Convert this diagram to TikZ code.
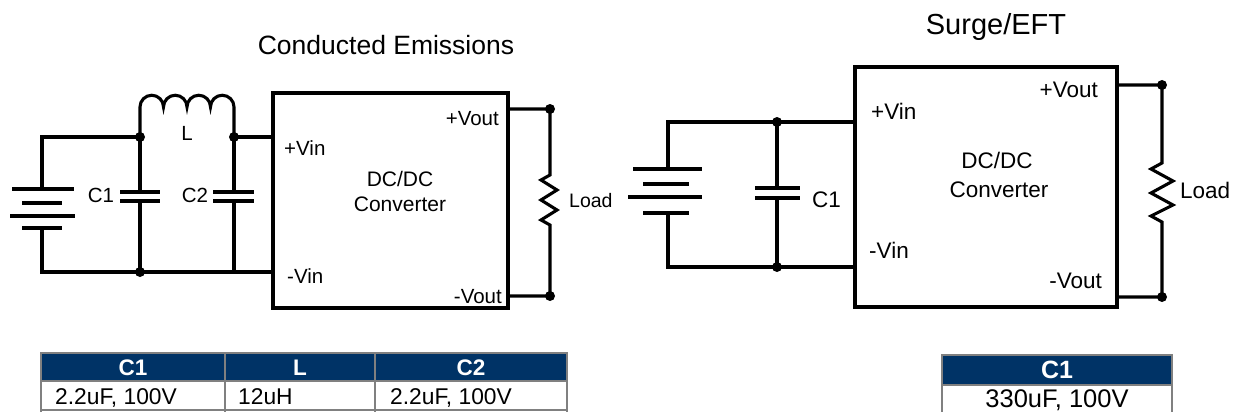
\documentclass[tikz,border=0pt]{standalone}
\usepackage{fontspec}
\setmainfont{Liberation Sans}
\definecolor{hdr}{RGB}{0,51,102}
\definecolor{gridc}{RGB}{128,128,128}
\begin{document}
\begin{tikzpicture}[x=1pt,y=-1pt,
  wire/.style={line width=3.1pt, line join=miter},
  plate/.style={line width=3.1pt},
  conv/.style={draw, line width=3.1pt, minimum width=#1, inner sep=0pt},
  dotn/.style={circle, fill=black, inner sep=0pt, minimum size=10pt},
  lblA/.style={inner sep=0pt, font=\fontsize{20.5}{24}\selectfont},
  lblB/.style={inner sep=0pt, font=\fontsize{22.5}{27}\selectfont},
  tgrid/.style={draw=gridc, line width=2.4pt},
  thead/.style={inner sep=0pt, text=white, font=\bfseries\fontsize{22.5}{26}\selectfont},
  tcell/.style={inner sep=0pt, font=\fontsize{22.8}{26}\selectfont},
  theadB/.style={inner sep=0pt, text=white, font=\bfseries\fontsize{25}{28}\selectfont},
  tcellB/.style={inner sep=0pt, font=\fontsize{25.5}{28}\selectfont}]
\useasboundingbox (0,0) rectangle (1235,412);

% ================= LEFT: Conducted Emissions =================
\node[inner sep=0pt, anchor=base, font=\fontsize{26.5}{30}\selectfont] (t1) at (386,55) {Conducted Emissions};

% converter box (273,93)-(508,308)
\node[conv=235pt, minimum height=215pt] (cv1) at (390.5,200.5) {};
\node[lblA, anchor=base west] (vin1p) at (284,155) {+Vin};
\node[lblA, anchor=base west] (vin1n) at (287,283) {-Vin};
\node[lblA, anchor=base east] (vo1p) at (499,125) {+Vout};
\node[lblA, anchor=base east] (vo1n) at (502,303) {-Vout};
\node[inner sep=0pt, anchor=base, font=\fontsize{21}{24}\selectfont] (dc1) at (400,186) {DC/DC};
\node[inner sep=0pt, anchor=base, font=\fontsize{21}{24}\selectfont] (cvt1) at (400,211) {Converter};

% junctions
\coordinate (j1) at (140,137);
\coordinate (j2) at (234,137);
\coordinate (j3) at (140,272);
\coordinate (j4) at (234,272);
\coordinate (bp1) at (42,189);
\coordinate (bn1) at (42,228);

% battery
\draw[plate] (12,189) -- (74,189);
\draw[plate] (22,203) -- (62,203);
\draw[plate] (10,216) -- (75,216);
\draw[plate] (22,228) -- (62,228);
\draw[wire] (bp1) |- (j1);
\draw[wire] (bn1) |- (j3) -- (j4) -- (j4 -| cv1.west);

% inductor
\draw[wire] (j1) -- (140,107)
  arc[start angle=180, end angle=0, radius=11.75pt]
  arc[start angle=180, end angle=0, radius=11.75pt]
  arc[start angle=180, end angle=0, radius=11.75pt]
  arc[start angle=180, end angle=0, radius=11.75pt] -- (j2);
\node[lblA, anchor=base] (lL) at (187,140) {L};
\draw[wire] (j2) -- (j2 -| cv1.west);

% C1
\coordinate (c1a) at (140,192);
\coordinate (c1b) at (140,201);
\draw[wire] (j1) -- (c1a);
\draw[wire] (c1b) -- (j3);
\draw[plate] (120,192) -- (160,192);
\draw[plate] (120,201) -- (160,201);
\node[lblA, anchor=base] (lC1) at (101,202) {C1};
% C2
\coordinate (c2a) at (234,192);
\coordinate (c2b) at (234,201);
\draw[wire] (j2) -- (c2a);
\draw[wire] (c2b) -- (j4);
\draw[plate] (213,192) -- (254,192);
\draw[plate] (213,201) -- (254,201);
\node[lblA, anchor=base] (lC2) at (195,202) {C2};

% output + load
\coordinate (o1t) at (550,109);
\coordinate (o1b) at (550,296);
\draw[wire] (cv1.east |- o1t) -- (o1t) -- (550,175) -- (541,180) -- (557,190) -- (541,200)
  -- (557,210) -- (541,220) -- (550,225) -- (o1b) -- (cv1.east |- o1b);
\node[inner sep=0pt, anchor=base west, font=\fontsize{19.5}{23}\selectfont] (ld1) at (569,207) {Load};

\node[dotn] (d1) at (j1) {};
\node[dotn] (d2) at (j2) {};
\node[dotn] (d3) at (j3) {};
\node[dotn] (d4) at (o1t) {};
\node[dotn] (d5) at (o1b) {};

% ================= RIGHT: Surge/EFT =================
\node[inner sep=0pt, anchor=base, font=\fontsize{29}{33}\selectfont] (t2) at (996,35) {Surge/EFT};

% converter box (855,67)-(1117,307)
\node[conv=262pt, minimum height=240pt] (cv2) at (986,187) {};
\node[lblB, anchor=base west] (vin2p) at (871,120) {+Vin};
\node[lblB, anchor=base west] (vin2n) at (869,258) {-Vin};
\node[lblB, anchor=base east] (vo2p) at (1098,97) {+Vout};
\node[lblB, anchor=base east] (vo2n) at (1102,288) {-Vout};
\node[lblB, anchor=base] (dc2) at (997,168) {DC/DC};
\node[lblB, anchor=base] (cvt2) at (999,197) {Converter};

\coordinate (k1) at (777,122);
\coordinate (k2) at (777,267);
\coordinate (bp2) at (668,169);
\coordinate (bn2) at (668,213);

% battery
\draw[plate] (633,169) -- (702,169);
\draw[plate] (643,184) -- (689,184);
\draw[plate] (628,197) -- (702,197);
\draw[plate] (643,213) -- (689,213);
\draw[wire] (bp2) |- (k1) -- (k1 -| cv2.west);
\draw[wire] (bn2) |- (k2) -- (k2 -| cv2.west);

% C1
\coordinate (c3a) at (777,188);
\coordinate (c3b) at (777,198);
\draw[wire] (k1) -- (c3a);
\draw[wire] (c3b) -- (k2);
\draw[plate] (755,188) -- (800,188);
\draw[plate] (755,198) -- (800,198);
\node[lblB, anchor=base west] (lC3) at (812,207) {C1};

% output + load
\coordinate (o2t) at (1162,85);
\coordinate (o2b) at (1162,297);
\draw[wire] (cv2.east |- o2t) -- (o2t) -- (1162,163) -- (1151,169) -- (1173,181) -- (1151,193)
  -- (1173,205) -- (1151,216) -- (1162,222) -- (o2b) -- (cv2.east |- o2b);
\node[lblB, anchor=base west] (ld2) at (1180,198) {Load};

\node[dotn] (e1) at (k1) {};
\node[dotn] (e2) at (k2) {};
\node[dotn] (e3) at (o2t) {};
\node[dotn] (e4) at (o2b) {};

% ================= TABLES =================
\fill[hdr] (41,353) rectangle (567,381);
\draw[tgrid] (41,412) -- (41,353) -- (567,353) -- (567,412);
\draw[tgrid] (41,381) -- (567,381);
\draw[tgrid] (41,410) -- (567,410);
\draw[tgrid] (225,353) -- (225,412);
\draw[tgrid] (375,353) -- (375,412);
\node[thead, anchor=base] (h1) at (133,375) {C1};
\node[thead, anchor=base] (h2) at (300,375) {L};
\node[thead, anchor=base] (h3) at (471,375) {C2};
\node[tcell, anchor=base west] (r1) at (55,404) {2.2uF, 100V};
\node[tcell, anchor=base west] (r2) at (238,404) {12uH};
\node[tcell, anchor=base west] (r3) at (390,404) {2.2uF, 100V};

\fill[hdr] (942,355) rectangle (1172,385);
\draw[tgrid] (942,412) -- (942,355) -- (1172,355) -- (1172,412);
\draw[tgrid] (942,385) -- (1172,385);
\node[theadB, anchor=base] (h4) at (1057,378) {C1};
\node[tcellB, anchor=base] (r4) at (1057,407) {330uF, 100V};
\end{tikzpicture}
\end{document}
